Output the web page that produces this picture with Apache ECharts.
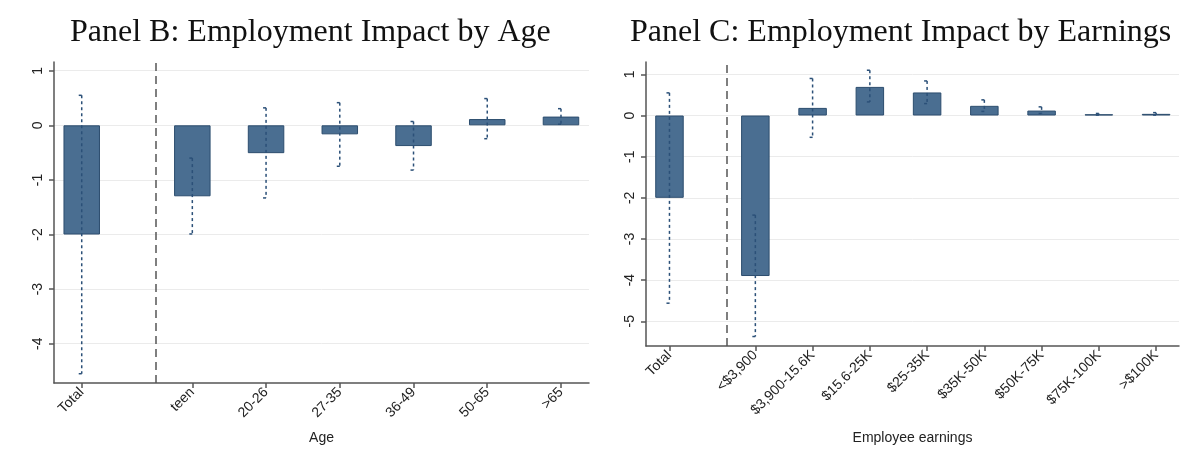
<!DOCTYPE html>
<html>
<head>
<meta charset="utf-8">
<script src="https://cdn.jsdelivr.net/npm/echarts@6/dist/echarts.min.js"></script>
<style>
html,body{margin:0;padding:0;background:#fff;}
#chart{width:1200px;height:462px;}
</style>
</head>
<body>
<div id="chart"></div>
<script>
// ---- Data ----
const ageCategories = ['Total', 'teen', '20-26', '27-35', '36-49', '50-65', '>65'];
const ageEstimate   = [-2.00, -1.30, -0.51, -0.165, -0.38, 0.115, 0.16];
const ageLow        = [-4.55, -1.99, -1.33, -0.75, -0.82, -0.245, 0.02];
const ageHigh       = [0.55, -0.60, 0.32, 0.415, 0.07, 0.49, 0.305];

const earnCategories = ['Total', '<$3,900', '$3,900-15.6K', '$15.6-25K', '$25-35K', '$35K-50K', '$50K-75K', '$75K-100K', '>$100K'];
const earnEstimate   = [-2.00, -3.90, 0.185, 0.695, 0.56, 0.235, 0.12, 0.03, 0.04];
const earnLow        = [-4.56, -5.37, -0.53, 0.33, 0.29, 0.10, 0.05, 0.01, 0.01];
const earnHigh       = [0.55, -2.42, 0.90, 1.10, 0.84, 0.38, 0.21, 0.05, 0.07];

const ageTicks  = [-4, -3, -2, -1, 0, 1];
const earnTicks = [-5, -4, -3, -2, -1, 0, 1];

const titleB = 'Panel B: Employment Impact by Age';
const titleC = 'Panel C: Employment Impact by Earnings';
const nameB = 'Age';
const nameC = 'Employee earnings';

// position along x: a gap after the "Total" group, divider between them
const pos = i => (i === 0 ? 0 : i + 0.5);
const dividerPos = 1;

// ---- Styles ----
const barFill = '#4a6e91';
const barBorder = '#2c4d6e';
const ciColor = '#2b5078';
const axisColor = '#555';
const labelFont = 'Liberation Sans, Arial, sans-serif';
const serif = 'Liberation Serif, Times New Roman, serif';

function errorRender(params, api) {
  const x = api.value(0), lo = api.value(1), hi = api.value(2);
  const p1 = api.coord([x, hi]);
  const p2 = api.coord([x, lo]);
  const st = { stroke: ciColor, lineWidth: 1.5, lineDash: [3, 3] };
  const cap = { stroke: ciColor, lineWidth: 1.5 };
  return {
    type: 'group',
    children: [
      { type: 'line', shape: { x1: p1[0], y1: p1[1], x2: p2[0], y2: p2[1] }, style: st },
      { type: 'line', shape: { x1: p1[0] - 3, y1: p1[1], x2: p1[0], y2: p1[1] }, style: cap },
      { type: 'line', shape: { x1: p2[0] - 3, y1: p2[1], x2: p2[0], y2: p2[1] }, style: cap }
    ]
  };
}

function xAxisCfg(gridIndex, cats, min, max, name, nameGap) {
  const vals = cats.map((c, i) => pos(i));
  return {
    type: 'value', gridIndex, min, max, name, nameLocation: 'middle', nameGap,
    nameTextStyle: { fontFamily: labelFont, fontSize: 14, color: '#222' },
    axisLine: { show: true, onZero: false, lineStyle: { color: axisColor, width: 1.5 } },
    axisTick: { show: true, length: 5, lineStyle: { color: axisColor, width: 1.5 }, customValues: vals },
    axisLabel: {
      customValues: vals, rotate: 45, margin: 7, fontFamily: labelFont, fontSize: 14, color: '#222',
      formatter: v => { const i = vals.findIndex(p => Math.abs(p - v) < 1e-6); return i >= 0 ? cats[i] : ''; }
    },
    splitLine: { show: false }
  };
}

function yAxisCfg(gridIndex, ticks, min, max) {
  return {
    type: 'value', gridIndex, min, max,
    axisLine: { show: true, onZero: false, lineStyle: { color: axisColor, width: 1.5 } },
    axisTick: { show: true, length: 5, lineStyle: { color: axisColor, width: 1.5 }, customValues: ticks },
    axisLabel: { customValues: ticks, rotate: 90, margin: 9, fontFamily: labelFont, fontSize: 14, color: '#222' },
    splitLine: { show: true, lineStyle: { color: '#ebebeb', width: 1 } }
  };
}

const chart = echarts.init(document.getElementById('chart'), null, { renderer: 'canvas' });
chart.setOption({
  backgroundColor: '#fff',
  animation: false,
  title: [
    { text: titleB, left: 65, top: 12, textStyle: { fontFamily: serif, fontSize: 32, fontWeight: 'normal', color: '#111' } },
    { text: titleC, left: 625, top: 12, textStyle: { fontFamily: serif, fontSize: 32, fontWeight: 'normal', color: '#111' } }
  ],
  grid: [
    { left: 54, top: 62, width: 535, height: 321, outerBoundsMode: 'none', containLabel: false },
    { left: 646, top: 62, width: 533, height: 284, outerBoundsMode: 'none', containLabel: false }
  ],
  xAxis: [
    xAxisCfg(0, ageCategories, -0.376, 6.88, nameB, 48),
    xAxisCfg(1, earnCategories, -0.41, 8.9, nameC, 85)
  ],
  yAxis: [
    yAxisCfg(0, ageTicks, -4.72, 1.16),
    yAxisCfg(1, earnTicks, -5.6, 1.3)
  ],
  series: [
    {
      type: 'bar', xAxisIndex: 0, yAxisIndex: 0, barWidth: 36.5,
      data: ageEstimate.map((v, i) => [pos(i), v]),
      itemStyle: { color: barFill, borderColor: barBorder, borderWidth: 1 },
      markLine: { symbol: 'none', silent: true, label: { show: false },
        lineStyle: { type: [8, 5], color: axisColor, width: 1.5 }, data: [{ xAxis: dividerPos }] }
    },
    {
      type: 'custom', xAxisIndex: 0, yAxisIndex: 0, renderItem: errorRender, z: 5,
      encode: { x: 0, y: [1, 2] },
      data: ageLow.map((v, i) => [pos(i), v, ageHigh[i]])
    },
    {
      type: 'bar', xAxisIndex: 1, yAxisIndex: 1, barWidth: 28.5,
      data: earnEstimate.map((v, i) => [pos(i), v]),
      itemStyle: { color: barFill, borderColor: barBorder, borderWidth: 1 },
      markLine: { symbol: 'none', silent: true, label: { show: false },
        lineStyle: { type: [8, 5], color: axisColor, width: 1.5 }, data: [{ xAxis: dividerPos }] }
    },
    {
      type: 'custom', xAxisIndex: 1, yAxisIndex: 1, renderItem: errorRender, z: 5,
      encode: { x: 0, y: [1, 2] },
      data: earnLow.map((v, i) => [pos(i), v, earnHigh[i]])
    }
  ]
});
</script>
</body>
</html>
